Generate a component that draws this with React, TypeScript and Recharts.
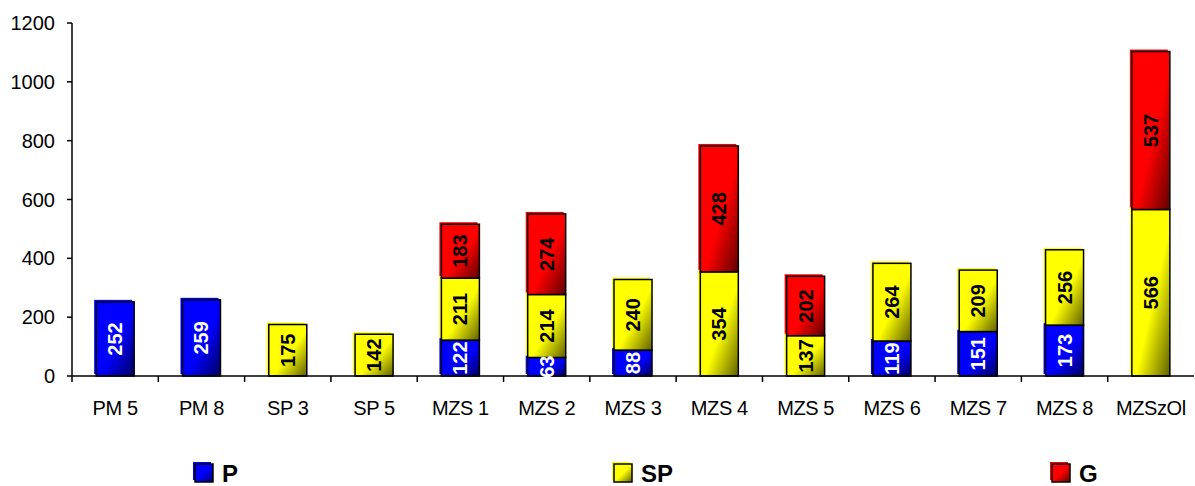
import React from 'react';
import { BarChart, Bar, XAxis, YAxis, Legend, LabelList } from 'recharts';

const categories = ['PM 5', 'PM 8', 'SP 3', 'SP 5', 'MZS 1', 'MZS 2', 'MZS 3', 'MZS 4', 'MZS 5', 'MZS 6', 'MZS 7', 'MZS 8', 'MZSzOl'];
const pValues = [252, 259, null, null, 122, 63, 88, null, null, 119, 151, 173, null];
const spValues = [null, null, 175, 142, 211, 214, 240, 354, 137, 264, 209, 256, 566];
const gValues = [null, null, null, null, 183, 274, null, 428, 202, null, null, null, 537];
const yTicks = [0, 200, 400, 600, 800, 1000, 1200];

const data = categories.map((name, i) => ({ name, P: pValues[i], SP: spValues[i], G: gValues[i] }));

const series = [
  { key: 'P', color: '#0000ff', dark: '#000060', text: '#ffffff', legendX: 193 },
  { key: 'SP', color: '#ffff00', dark: '#606000', text: '#000000', legendX: 612 },
  { key: 'G', color: '#ff0000', dark: '#600000', text: '#000000', legendX: 1050 },
];

const FONT = '"Liberation Sans", Arial, sans-serif';

const makeShape = (color: string, id: string) => (props: any) => {
  const { x, y, width, height } = props;
  if (!height || height <= 0) return <g />;
  return (
    <g>
      <rect x={x - 2} y={y - 2} width={width} height={height} fill={color} />
      <rect x={x} y={y} width={width} height={height} fill={`url(#grad-${id})`} stroke="#000" strokeWidth={1.5} />
    </g>
  );
};

const makeLabel = (fill: string) => (props: any) => {
  const { x, y, width, height, value } = props;
  if (value == null || !height) return null;
  const cx = x + width / 2;
  const cy = y + height / 2;
  return (
    <text
      x={cx}
      y={cy}
      transform={`rotate(-90 ${cx} ${cy})`}
      textAnchor="middle"
      dominantBaseline="central"
      fill={fill}
      fontFamily={FONT}
      fontWeight="bold"
      fontSize={20}
    >
      {value}
    </text>
  );
};

// tick marks sit between categories, labels at the centre
const CategoryTick = (props: any) => {
  const { x, y, payload } = props;
  const band = 1122 / categories.length;
  return (
    <g>
      <line x1={x - band / 2} y1={y} x2={x - band / 2} y2={y + 6} stroke="#000" strokeWidth={1.5} />
      <text x={x} y={y + 39} textAnchor="middle" fill="#000" fontFamily={FONT} fontSize={20} letterSpacing={-0.4}>
        {payload.value}
      </text>
    </g>
  );
};

const LegendContent = () => (
  <svg width={1195} height={80} style={{ display: 'block' }}>
    <defs>
      {series.map((s) => (
        <linearGradient key={s.key} id={`lg-${s.key}`} x1="0" y1="0" x2="1" y2="1">
          <stop offset="0%" stopColor={s.color} />
          <stop offset="50%" stopColor={s.color} />
          <stop offset="100%" stopColor={s.dark} />
        </linearGradient>
      ))}
    </defs>
    {series.map((s) => (
      <g key={s.key}>
        <rect x={s.legendX} y={56} width={18} height={18} fill={s.color} />
        <rect x={s.legendX + 2} y={58} width={18} height={18} fill={`url(#lg-${s.key})`} stroke="#000" strokeWidth={1.5} />
        <text x={s.legendX + 29} y={76} fill="#000" fontFamily={FONT} fontWeight="bold" fontSize={24}>
          {s.key}
        </text>
      </g>
    ))}
  </svg>
);

export default function App() {
  return (
    <div style={{ position: 'absolute', left: 0, top: 0, background: '#fff' }}>
      <BarChart width={1195} height={486} data={data} margin={{ top: 23, right: 1, left: 0, bottom: 0 }} barCategoryGap="28%">
        <defs>
          {series.map((s) => (
            <linearGradient key={s.key} id={`grad-${s.key}`} x1="0" y1="0" x2="1" y2="1">
              <stop offset="0%" stopColor={s.color} />
              <stop offset="55%" stopColor={s.color} />
              <stop offset="100%" stopColor={s.dark} />
            </linearGradient>
          ))}
        </defs>
        <YAxis
          width={72}
          domain={[0, 1200]}
          ticks={yTicks}
          interval={0}
          tickSize={5}
          tickMargin={12}
          axisLine={{ stroke: '#000', strokeWidth: 1.5 }}
          tickLine={{ stroke: '#000', strokeWidth: 1.5 }}
          tick={{ fill: '#000', fontFamily: FONT, fontSize: 20 }}
        />
        <XAxis
          dataKey="name"
          height={30}
          interval={0}
          tickSize={0}
          tickMargin={0}
          tickLine={false}
          axisLine={{ stroke: '#000', strokeWidth: 1.5 }}
          tick={<CategoryTick />}
        />
        <Legend verticalAlign="bottom" height={80} content={<LegendContent />} wrapperStyle={{ left: 0, bottom: 0, width: 1195, height: 80 }} />
        {series.map((s) => (
          <Bar key={s.key} dataKey={s.key} stackId="a" isAnimationActive={false} shape={makeShape(s.color, s.key)}>
            <LabelList dataKey={s.key} content={makeLabel(s.text)} />
          </Bar>
        ))}
      </BarChart>
    </div>
  );
}
